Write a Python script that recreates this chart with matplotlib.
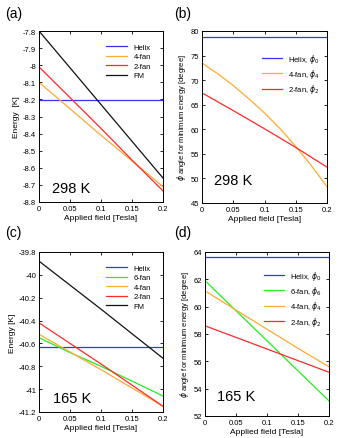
import numpy as np
import matplotlib.pyplot as plt

# Data
field = [0, 0.05, 0.1, 0.15, 0.2]
field_fine = [0, 0.025, 0.05, 0.075, 0.1, 0.125, 0.15, 0.175, 0.2]

# (a) energies at 298 K
a_helix = [-8.205] * 5
a_fan4 = [-8.10, -8.255, -8.41, -8.56, -8.71]
a_fan2 = [-8.01, -8.19, -8.37, -8.555, -8.735]
a_fm = [-7.80, -8.015, -8.23, -8.445, -8.66]

# (b) angles at 298 K
b_helix = [78.7] * 5
b_fan4 = [73.5, 71.3, 68.9, 66.2, 63.3, 60.1, 56.5, 52.6, 48.3]
b_fan2 = [67.4, 63.8, 60.1, 56.3, 52.3]

# (c) energies at 165 K
c_helix = [-40.63] * 5
c_fan6 = [-40.55, -40.68, -40.80, -40.93, -41.06]
c_fan4 = [-40.52, -40.675, -40.83, -40.99, -41.15]
c_fan2 = [-40.42, -40.60, -40.78, -40.965, -41.15]
c_fm = [-39.88, -40.09, -40.30, -40.515, -40.73]

# (d) angles at 165 K
d_helix = [63.6] * 5
d_fan6 = [61.9, 59.7, 57.5, 55.3, 53.1]
d_fan4 = [61.15, 59.75, 58.35, 56.95, 55.6]
d_fan2 = [58.6, 57.75, 56.9, 56.05, 55.2]

blue = '#3333ff'
green = '#22ee22'
orange = '#ffaa33'
red = '#ff2a2a'
black = '#111111'

plt.rcParams['font.family'] = ['Liberation Sans', 'DejaVu Sans']
plt.rcParams['mathtext.fontset'] = 'dejavusans'
fig = plt.figure(figsize=(3.42, 4.39), dpi=100)
W, H = 342, 439

def make_ax(l, t, r, b):
    ax = fig.add_axes([l / W, 1 - b / H, (r - l) / W, (b - t) / H])
    ax.tick_params(direction='in', top=True, right=True, labelsize=5.5, length=2, width=0.6, pad=2)
    for s in ax.spines.values():
        s.set_linewidth(0.7)
    ax.set_xlim(0, 0.2)
    ax.set_xticks([0, 0.05, 0.1, 0.15, 0.2])
    ax.set_xticklabels(['0', '0.05', '0.1', '0.15', '0.2'])
    ax.set_xlabel('Applied field [Tesla]', fontsize=6, labelpad=1.5)
    return ax

lw = 0.9

# (a)
ax = make_ax(39, 32, 163, 203)
ax.plot(field, a_helix, color=blue, lw=lw, label='Helix')
ax.plot(field, a_fan4, color=orange, lw=lw, label='4-fan')
ax.plot(field, a_fan2, color=red, lw=lw, label='2-fan')
ax.plot(field, a_fm, color=black, lw=lw, label='FM')
ax.set_ylim(-8.8, -7.8)
ax.set_yticks(np.arange(-8.8, -7.79, 0.1))
ax.set_yticklabels(['-8.8', '-8.7', '-8.6', '-8.5', '-8.4', '-8.3', '-8.2', '-8.1', '-8', '-7.9', '-7.8'])
ax.set_ylabel('Energy  [K]', fontsize=6, labelpad=2)
ax.text(0.021, -8.74, '298 K', fontsize=10.5)
ax.legend(loc='upper right', fontsize=5.5, frameon=False, handlelength=2.8, borderaxespad=1.2, labelspacing=0.3)
fig.text(5 / W, 1 - 14 / H, '(a)', fontsize=10, va='center')

# (b)
ax = make_ax(202, 32, 327, 204)
ax.plot(field, b_helix, color=blue, lw=lw, label='Helix, $\\phi_0$')
ax.plot(field_fine, b_fan4, color=orange, lw=lw, label='4-fan, $\\phi_4$')
ax.plot(field, b_fan2, color=red, lw=lw, label='2-fan, $\\phi_2$')
ax.set_ylim(45, 80)
ax.set_yticks(range(45, 81, 5))
ax.set_ylabel('$\\phi$ angle for minimum energy [degree]', fontsize=5.5, labelpad=2)
ax.text(0.02, 48.8, '298 K', fontsize=10.5)
ax.legend(loc='upper right', bbox_to_anchor=(1, 0.92), fontsize=5.5, frameon=False, handlelength=2.7, labelspacing=0.3)
fig.text(174 / W, 1 - 14 / H, '(b)', fontsize=10, va='center')

# (c)
ax = make_ax(39, 253, 163, 413)
ax.plot(field, c_helix, color=blue, lw=lw, label='Helix')
ax.plot(field, c_fan6, color=green, lw=lw, label='6-fan')
ax.plot(field, c_fan4, color=orange, lw=lw, label='4-fan')
ax.plot(field, c_fan2, color=red, lw=lw, label='2-fan')
ax.plot(field, c_fm, color=black, lw=lw, label='FM')
ax.set_ylim(-41.2, -39.8)
ax.set_yticks(np.arange(-41.2, -39.79, 0.2))
ax.set_yticklabels(['-41.2', '-41', '-40.8', '-40.6', '-40.4', '-40.2', '-40', '-39.8'])
ax.set_ylabel('Energy [K]', fontsize=6, labelpad=2)
ax.text(0.022, -41.11, '165 K', fontsize=10.5)
ax.legend(loc='upper right', fontsize=5.5, frameon=False, handlelength=2.8, borderaxespad=1.2, labelspacing=0.3)
fig.text(5 / W, 1 - 233 / H, '(c)', fontsize=10, va='center')

# (d)
ax = make_ax(205, 253, 329, 417)
ax.plot(field, d_helix, color=blue, lw=lw, label='Helix, $\\phi_0$')
ax.plot(field, d_fan6, color=green, lw=lw, label='6-fan, $\\phi_6$')
ax.plot(field, d_fan4, color=orange, lw=lw, label='4-fan, $\\phi_4$')
ax.plot(field, d_fan2, color=red, lw=lw, label='2-fan, $\\phi_2$')
ax.set_ylim(52, 64)
ax.set_yticks(range(52, 65, 2))
ax.set_ylabel('$\\phi$ angle for minimum energy [degree]', fontsize=5.5, labelpad=2)
ax.text(0.02, 53.2, '165 K', fontsize=10.5)
ax.legend(loc='upper right', bbox_to_anchor=(1, 0.94), fontsize=5.5, frameon=False, handlelength=2.7, labelspacing=0.3)
fig.text(174 / W, 1 - 233 / H, '(d)', fontsize=10, va='center')

fig.savefig('out.png', dpi=100)
